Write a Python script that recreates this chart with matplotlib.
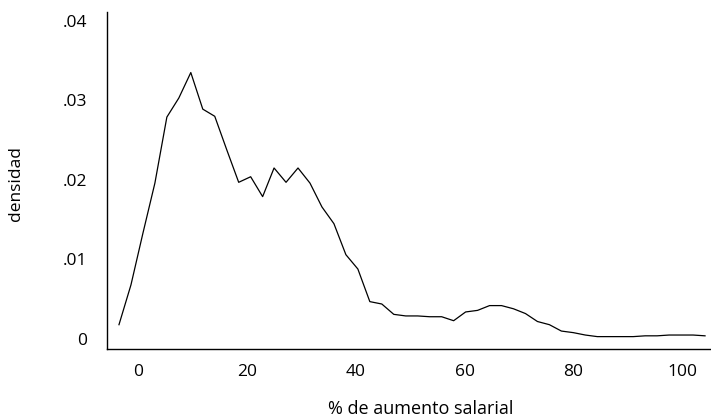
import matplotlib
matplotlib.use("Agg")
import matplotlib.pyplot as plt
from matplotlib.ticker import FuncFormatter

# density curve
pct = [-3.5, -1.3, 0.9, 3.1, 5.3, 7.5, 9.7, 11.9, 14.1, 16.3,
       18.5, 20.7, 22.9, 25.0, 27.2, 29.4, 31.6, 33.8, 36.0, 38.2,
       40.4, 42.6, 44.8, 47.0, 49.2, 51.4, 53.6, 55.8, 58.0, 60.2,
       62.4, 64.6, 66.8, 69.0, 71.2, 73.4, 75.6, 77.8, 80.0, 82.2,
       84.4, 86.6, 88.8, 91.0, 93.2, 95.4, 97.6, 99.8, 102.0, 104.2]
density = [0.0018, 0.0068, 0.0133, 0.0196, 0.0279, 0.0303, 0.0335, 0.0289, 0.0280, 0.0238,
           0.0197, 0.0204, 0.0179, 0.0215, 0.0197, 0.0215, 0.0196, 0.0166, 0.0145, 0.0106,
           0.0088, 0.0047, 0.0044, 0.0031, 0.0029, 0.0029, 0.0028, 0.0028, 0.0023, 0.0034,
           0.0036, 0.0042, 0.0042, 0.0038, 0.0032, 0.0022, 0.0018, 0.0010, 0.0008, 0.0005,
           0.0003, 0.0003, 0.0003, 0.0003, 0.0004, 0.0004, 0.0005, 0.0005, 0.0005, 0.0004]

x_ticks = [0, 20, 40, 60, 80, 100]
y_ticks = [0, 0.01, 0.02, 0.03, 0.04]

plt.rcParams['font.family'] = ['Open Sans', 'DejaVu Sans']

fig = plt.figure(figsize=(7.11, 4.17), dpi=100)
ax = fig.add_axes([0.1505, 0.163, 0.848, 0.808])
ax.plot(pct, density, color="black", linewidth=0.9)

ax.set_xlim(-5.7, 105.1)
ax.set_ylim(-0.00126, 0.0411)
ax.set_xticks(x_ticks)
ax.set_yticks(y_ticks)
ax.yaxis.set_major_formatter(FuncFormatter(lambda v, p: "0" if v == 0 else f"{v:.2f}".lstrip("0")))
ax.tick_params(length=0, labelsize=12.5, pad=11)
ax.tick_params(axis="y", pad=14)

for s in ["top", "right"]:
    ax.spines[s].set_visible(False)
for s in ["left", "bottom"]:
    ax.spines[s].set_linewidth(1.0)

ax.set_xlabel("% de aumento salarial", fontsize=13)
ax.set_ylabel("densidad", fontsize=12.5)
ax.xaxis.set_label_coords(0.52, -0.152)
ax.yaxis.set_label_coords(-0.138, 0.49)

fig.savefig("out.png", dpi=100)
